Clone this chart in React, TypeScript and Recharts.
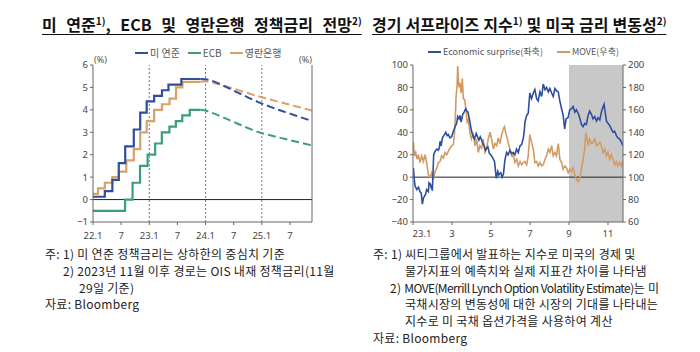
import React from "react";
import { LineChart, Line, XAxis, YAxis, ReferenceLine, ReferenceArea } from "recharts";

// ---- left panel: policy rates (step) + OIS implied path (dashed) ----
const fedDates = ["2022-01-01", "2022-03-17", "2022-05-05", "2022-06-16", "2022-07-28", "2022-09-22", "2022-11-03", "2022-12-15", "2023-02-02", "2023-03-23", "2023-05-04", "2023-07-27", "2023-11-29"];
const fedRates = [0.125, 0.375, 0.875, 1.625, 2.375, 3.125, 3.875, 4.375, 4.625, 4.875, 5.125, 5.375, 5.375];

const ecbDates = ["2022-01-01", "2022-07-27", "2022-09-14", "2022-11-02", "2022-12-21", "2023-02-08", "2023-03-22", "2023-05-10", "2023-06-21", "2023-08-02", "2023-09-20", "2023-11-29"];
const ecbRates = [-0.5, 0, 0.75, 1.5, 2.0, 2.5, 3.0, 3.25, 3.5, 3.75, 4.0, 4.0];

const boeDates = ["2022-01-01", "2022-02-03", "2022-03-17", "2022-05-05", "2022-06-16", "2022-08-04", "2022-09-22", "2022-11-03", "2022-12-15", "2023-02-02", "2023-03-23", "2023-05-11", "2023-06-22", "2023-08-03", "2023-11-29"];
const boeRates = [0.25, 0.5, 0.75, 1.0, 1.25, 1.75, 2.25, 3.0, 3.5, 4.0, 4.25, 4.5, 5.0, 5.25, 5.25];

const oisDates = ["2023-11-29",
  "2024-01-01", "2024-02-01", "2024-03-01", "2024-04-01", "2024-05-01", "2024-06-01", "2024-07-01", "2024-08-01", "2024-09-01", "2024-10-01", "2024-11-01", "2024-12-01",
  "2025-01-01", "2025-02-01", "2025-03-01", "2025-04-01", "2025-05-01", "2025-06-01", "2025-07-01", "2025-08-01", "2025-09-01", "2025-10-01", "2025-11-01",
  "2025-11-22"];
const fedOis = [5.375, 5.37, 5.33, 5.25, 5.16, 5.06, 4.96, 4.86, 4.76, 4.66, 4.56, 4.46, 4.37, 4.28, 4.2, 4.12, 4.04, 3.97, 3.9, 3.83, 3.76, 3.69, 3.62, 3.55, 3.5];
const ecbOis = [4.0, 3.97, 3.9, 3.82, 3.73, 3.64, 3.55, 3.46, 3.37, 3.28, 3.19, 3.11, 3.03, 2.96, 2.91, 2.86, 2.8, 2.75, 2.7, 2.65, 2.6, 2.55, 2.5, 2.45, 2.4];
const boeOis = [5.25, 5.27, 5.24, 5.19, 5.13, 5.07, 5.01, 4.95, 4.88, 4.81, 4.75, 4.68, 4.62, 4.56, 4.5, 4.45, 4.39, 4.34, 4.28, 4.23, 4.17, 4.12, 4.06, 4.01, 3.97];

const rateTicks = [0, 6, 12, 18, 24, 30, 36, 42];
const rateTickLabels = ["22.1", "7", "23.1", "7", "24.1", "7", "25.1", "7"];
const rateYTicks = [-1, 0, 1, 2, 3, 4, 5, 6];

// ---- right panel: Citi economic surprise (left axis) and MOVE (right axis) ----
// x = months since 2023-01-01
const surpriseMonths = [0.02, 0.07, 0.11, 0.19, 0.28, 0.36, 0.42, 0.48, 0.53, 0.59, 0.65, 0.7, 0.79, 0.82, 0.88, 0.93, 0.96, 0.99, 1.03, 1.06, 1.13, 1.22, 1.3, 1.35, 1.39, 1.44, 1.51, 1.61, 1.68, 1.75, 1.81, 1.9, 1.98, 2.07, 2.16, 2.24, 2.29, 2.36, 2.41, 2.47, 2.55, 2.62, 2.7, 2.76, 2.82, 2.9, 2.99, 3.07, 3.16, 3.24, 3.31, 3.38, 3.45, 3.5, 3.58, 3.65, 3.72, 3.78, 3.84, 3.92, 3.99, 4.06, 4.12, 4.18, 4.23, 4.27, 4.31, 4.35, 4.4, 4.44, 4.5, 4.57, 4.64, 4.71, 4.8, 4.88, 4.97, 5.06, 5.14, 5.23, 5.31, 5.4, 5.49, 5.57, 5.66, 5.71, 5.74, 5.83, 5.91, 5.99, 6.08, 6.17, 6.25, 6.34, 6.42, 6.51, 6.6, 6.68, 6.77, 6.85, 6.94, 7.02, 7.11, 7.19, 7.28, 7.36, 7.45, 7.53, 7.62, 7.7, 7.78, 7.85, 7.95, 8.04, 8.13, 8.21, 8.3, 8.38, 8.47, 8.55, 8.64, 8.72, 8.81, 8.89, 8.98, 9.06, 9.15, 9.23, 9.32, 9.41, 9.49, 9.58, 9.66, 9.75, 9.8, 9.83, 9.92, 10.0, 10.09, 10.17, 10.26, 10.34, 10.43, 10.51, 10.6, 10.69, 10.77];
const surpriseValues = [8, -3, -8, -11, -9, -13, -14, -24, -19, -17, -15, -11, -13, -5, -6, -9, -8, -12, 5, 20, 23, 25, 24, 26, 32, 28, 35, 38, 40, 37, 38, 35, 36, 41, 45, 48, 54, 52, 55, 49, 56, 58, 61, 59, 58, 51, 42, 37, 34, 39, 36, 33, 36, 34, 30, 28, 24, 26, 27, 21, 20, 18, 16, 14, 6, -1, 2, 5, 2, 3, 4, 0, 3, 15, 22, 20, 24, 21, 22, 20, 25, 22, 28, 29, 35, 42, 49, 55, 57, 75, 70, 75, 78, 70, 68, 76, 72, 83, 78, 80, 76, 79, 75, 72, 79, 77, 76, 68, 61, 55, 43, 52, 53, 60, 61, 63, 58, 60, 57, 53, 47, 45, 48, 47, 55, 59, 56, 52, 54, 50, 53, 51, 58, 63, 65, 61, 50, 48, 46, 43, 40, 41, 37, 35, 34, 31, 28];

const moveMonths = [0.02, 0.07, 0.14, 0.21, 0.28, 0.36, 0.45, 0.53, 0.62, 0.7, 0.79, 0.88, 0.96, 1.05, 1.13, 1.22, 1.3, 1.39, 1.47, 1.56, 1.64, 1.73, 1.81, 1.9, 1.98, 2.07, 2.12, 2.16, 2.21, 2.26, 2.29, 2.33, 2.36, 2.41, 2.47, 2.53, 2.58, 2.65, 2.72, 2.78, 2.84, 2.92, 3.0, 3.09, 3.18, 3.26, 3.35, 3.43, 3.52, 3.6, 3.69, 3.77, 3.86, 3.95, 4.03, 4.12, 4.2, 4.29, 4.37, 4.46, 4.54, 4.63, 4.69, 4.75, 4.8, 4.88, 4.97, 5.06, 5.14, 5.23, 5.32, 5.4, 5.49, 5.57, 5.66, 5.74, 5.83, 5.91, 5.99, 6.08, 6.17, 6.25, 6.34, 6.42, 6.51, 6.6, 6.68, 6.77, 6.85, 6.94, 7.02, 7.11, 7.19, 7.28, 7.36, 7.45, 7.53, 7.62, 7.7, 7.79, 7.88, 7.96, 8.05, 8.13, 8.21, 8.3, 8.38, 8.47, 8.55, 8.64, 8.72, 8.81, 8.86, 8.93, 8.98, 9.06, 9.15, 9.23, 9.32, 9.41, 9.49, 9.58, 9.66, 9.75, 9.83, 9.92, 10.0, 10.09, 10.17, 10.26, 10.34, 10.43, 10.51, 10.6, 10.69, 10.77];
const moveValues = [131, 119, 122, 116, 120, 113, 119, 114, 120, 113, 102, 100, 104, 98, 105, 108, 113, 114, 119, 117, 122, 120, 123, 126, 128, 129, 137, 149, 172, 181, 199, 187, 180, 184, 175, 188, 170, 169, 160, 149, 151, 140, 134, 138, 128, 134, 122, 128, 126, 134, 122, 125, 134, 140, 134, 125, 130, 128, 135, 130, 137, 143, 145, 140, 137, 131, 125, 119, 120, 113, 116, 110, 114, 111, 113, 114, 111, 119, 138, 131, 125, 113, 114, 110, 113, 110, 111, 116, 119, 125, 122, 128, 119, 122, 119, 130, 116, 113, 107, 110, 108, 104, 107, 105, 108, 102, 98, 96, 99, 107, 116, 125, 140, 134, 128, 134, 130, 131, 134, 128, 129, 131, 128, 122, 125, 119, 122, 116, 120, 116, 111, 114, 110, 113, 110, 114];

const moveTicks = [0, 2, 4, 6, 8, 10];
const moveTickLabels = ["23.1", "3", "5", "7", "9", "11"];
const surpriseYTicks = [-40, -20, 0, 20, 40, 60, 80, 100];
const moveYTicks = [60, 80, 100, 120, 140, 160, 180, 200];

const toMonth = (d: string, baseYear: number) => {
  const [y, m, day] = d.split("-").map(Number);
  const dim = new Date(y, m, 0).getDate();
  return (y - baseYear) * 12 + (m - 1) + (day - 1) / dim;
};

const rateSeries = (dates: string[], values: number[]) =>
  dates.map((d, i) => ({ m: toMonth(d, 2022), v: values[i] }));
const pairSeries = (xs: number[], values: number[]) => xs.map((m, i) => ({ m, v: values[i] }));

const fmtNeg = (v: number) => (v < 0 ? "\u2212" + Math.abs(v) : String(v));

const COLORS = {
  fed: "#2f4e9c",
  ecb: "#3b9e77",
  boe: "#d8a16a",
  surprise: "#2d4f9e",
  move: "#d39a62",
};

const tickStyle = { fontFamily: "'Noto Sans', sans-serif", fontSize: 9.5, fill: "#444" };
const axisStroke = "#666";

const MoveXTick = (props: any) => {
  const { x, y, payload } = props;
  const idx = moveTicks.indexOf(payload.value);
  const dx = idx === 0 ? 9 : 0;
  return (
    <text x={x + dx} y={y} dy={10} textAnchor="middle" {...tickStyle}>
      {moveTickLabels[idx]}
    </text>
  );
};

const RateXTick = (props: any) => {
  const { x, y, payload } = props;
  const idx = rateTicks.indexOf(payload.value);
  return (
    <text x={x} y={y} dy={12} textAnchor="middle" {...tickStyle}>
      {rateTickLabels[idx]}
    </text>
  );
};

const LegendItem = ({ color, label }: { color: string; label: string }) => (
  <span style={{ display: "inline-flex", alignItems: "center", marginRight: 8 }}>
    <span style={{ display: "inline-block", width: 13, height: 2, background: color, marginRight: 2 }} />
    <span>{label}</span>
  </span>
);

const RatesChart = () => {
  const domainEnd = toMonth("2025-11-22", 2022);
  return (
    <div style={{ position: "absolute", left: 0, top: 0 }}>
      <LineChart width={350} height={250} margin={{ top: 65, right: 10, left: 65, bottom: 8 }}>
        <XAxis
          type="number"
          dataKey="m"
          domain={[0, domainEnd]}
          ticks={rateTicks}
          tick={<RateXTick />}
          stroke={axisStroke}
          tickSize={3}
          height={20}
          allowDataOverflow
        />
        <YAxis yAxisId="l" domain={[-1, 6]} ticks={rateYTicks} tickFormatter={fmtNeg} tick={tickStyle} stroke={axisStroke} tickSize={3} width={28} />
        <YAxis yAxisId="r" orientation="right" domain={[-1, 6]} ticks={rateYTicks} tickFormatter={fmtNeg} tick={tickStyle} stroke={axisStroke} tickSize={3} width={28} />
        <ReferenceLine yAxisId="l" y={0} stroke="#222" strokeWidth={1} />
        {[12, 24, 36].map((x) => (
          <ReferenceLine key={x} yAxisId="l" x={x} stroke="#777" strokeDasharray="2 2" />
        ))}
        <Line yAxisId="l" data={rateSeries(ecbDates, ecbRates)} dataKey="v" type="stepAfter" stroke={COLORS.ecb} strokeWidth={2.2} dot={false} isAnimationActive={false} />
        <Line yAxisId="l" data={rateSeries(boeDates, boeRates)} dataKey="v" type="stepAfter" stroke={COLORS.boe} strokeWidth={2.2} dot={false} isAnimationActive={false} />
        <Line yAxisId="l" data={rateSeries(fedDates, fedRates)} dataKey="v" type="stepAfter" stroke={COLORS.fed} strokeWidth={2.2} dot={false} isAnimationActive={false} />
        <Line yAxisId="l" data={rateSeries(oisDates, ecbOis)} dataKey="v" type="linear" stroke={COLORS.ecb} strokeWidth={2} strokeDasharray="8 4" dot={false} isAnimationActive={false} />
        <Line yAxisId="l" data={rateSeries(oisDates, boeOis)} dataKey="v" type="linear" stroke={COLORS.boe} strokeWidth={2} strokeDasharray="8 4" dot={false} isAnimationActive={false} />
        <Line yAxisId="l" data={rateSeries(oisDates, fedOis)} dataKey="v" type="linear" stroke={COLORS.fed} strokeWidth={2} strokeDasharray="8 4" dot={false} isAnimationActive={false} />
      </LineChart>
    </div>
  );
};

const SurpriseChart = () => (
  <div style={{ position: "absolute", left: 350, top: 0 }}>
    <LineChart width={350} height={250} margin={{ top: 65, right: 47, left: 33, bottom: 8 }}>
      <XAxis
        type="number"
        dataKey="m"
        domain={[0, 10.77]}
        ticks={moveTicks}
        tick={<MoveXTick />}
        stroke={axisStroke}
        tickSize={3}
        height={20}
        allowDataOverflow
      />
      <YAxis yAxisId="l" domain={[-40, 100]} ticks={surpriseYTicks} tickFormatter={fmtNeg} tick={tickStyle} stroke={axisStroke} tickSize={3} width={30} />
      <YAxis yAxisId="r" orientation="right" domain={[60, 200]} ticks={moveYTicks} tick={tickStyle} stroke={axisStroke} tickSize={3} width={30} />
      <ReferenceArea yAxisId="l" x1={8} x2={10.77} y1={-40} y2={100} fill="#c8c8c8" fillOpacity={1} stroke="none" />
      <ReferenceLine yAxisId="l" y={0} stroke="#222" strokeWidth={1} />
      <Line yAxisId="r" data={pairSeries(moveMonths, moveValues)} dataKey="v" type="linear" stroke={COLORS.move} strokeWidth={1.6} dot={false} isAnimationActive={false} />
      <Line yAxisId="l" data={pairSeries(surpriseMonths, surpriseValues)} dataKey="v" type="linear" stroke={COLORS.surprise} strokeWidth={1.6} dot={false} isAnimationActive={false} />
    </LineChart>
  </div>
);

const titleStyle: React.CSSProperties = {
  position: "absolute",
  top: 14,
  fontFamily: "'Noto Sans CJK KR', sans-serif",
  fontWeight: 700,
  fontSize: 16,
  lineHeight: "20px",
  color: "#111",
  textDecoration: "underline",
  textUnderlineOffset: 3,
  whiteSpace: "nowrap",
};
const supStyle: React.CSSProperties = { fontSize: 10, lineHeight: 0, verticalAlign: "6px" };

const legendStyle: React.CSSProperties = {
  position: "absolute",
  fontFamily: "'Noto Sans CJK KR', sans-serif",
  fontSize: 10,
  color: "#555",
  whiteSpace: "nowrap",
  display: "flex",
  alignItems: "center",
  lineHeight: "12px",
};

const noteStyle: React.CSSProperties = {
  position: "absolute",
  top: 246,
  fontFamily: "'Noto Sans CJK KR', sans-serif",
  fontSize: 12,
  lineHeight: "16.8px",
  color: "#222",
  whiteSpace: "nowrap",
  letterSpacing: 0.3,
};

const unitStyle: React.CSSProperties = {
  position: "absolute",
  top: 53,
  fontFamily: "'Noto Sans', sans-serif",
  fontSize: 9,
  color: "#555",
};

export default function App() {
  return (
    <div style={{ position: "absolute", left: 0, top: 0, width: 700, height: 352, background: "#fff", overflow: "hidden" }}>
      <div style={{ ...titleStyle, left: 42, wordSpacing: 6 }}>
        미 연준<sup style={supStyle}>1)</sup>, ECB 및 영란은행 정책금리 전망<sup style={supStyle}>2)</sup>
      </div>
      <div style={{ ...titleStyle, left: 372, wordSpacing: 0.5 }}>
        경기 서프라이즈 지수<sup style={supStyle}>1)</sup> 및 미국 금리 변동성<sup style={supStyle}>2)</sup>
      </div>

      <div style={{ ...legendStyle, left: 135, top: 47 }}>
        <LegendItem color={COLORS.fed} label="미 연준" />
        <LegendItem color={COLORS.ecb} label="ECB" />
        <LegendItem color={COLORS.boe} label="영란은행" />
      </div>
      <div style={{ ...legendStyle, left: 428, top: 46, fontSize: 9 }}>
        <LegendItem color={COLORS.surprise} label="Economic surprise(좌축)" />
        <span style={{ width: 6 }} />
        <LegendItem color={COLORS.move} label="MOVE(우축)" />
      </div>

      <div style={{ ...unitStyle, left: 94 }}>(%)</div>
      <div style={{ ...unitStyle, left: 299 }}>(%)</div>

      <RatesChart />
      <SurpriseChart />

      <div style={{ ...noteStyle, left: 45 }}>
        <div>주: 1) 미 연준 정책금리는 상하한의 중심치 기준</div>
        <div style={{ paddingLeft: 18 }}>2) 2023년 11월 이후 경로는 OIS 내재 정책금리(11월</div>
        <div style={{ paddingLeft: 34 }}>29일 기준)</div>
        <div>자료: Bloomberg</div>
      </div>
      <div style={{ ...noteStyle, left: 373 }}>
        <div>주: 1) 씨티그룹에서 발표하는 지수로 미국의 경제 및</div>
        <div style={{ paddingLeft: 32 }}>물가지표의 예측치와 실제 지표간 차이를 나타냄</div>
        <div style={{ paddingLeft: 17 }}>
          2) <span style={{ letterSpacing: -0.6 }}>MOVE(Merrill Lynch Option Volatility Estimate)</span>는 미
        </div>
        <div style={{ paddingLeft: 32 }}>국채시장의 변동성에 대한 시장의 기대를 나타내는</div>
        <div style={{ paddingLeft: 32 }}>지수로 미 국채 옵션가격을 사용하여 계산</div>
        <div>자료: Bloomberg</div>
      </div>
    </div>
  );
}
